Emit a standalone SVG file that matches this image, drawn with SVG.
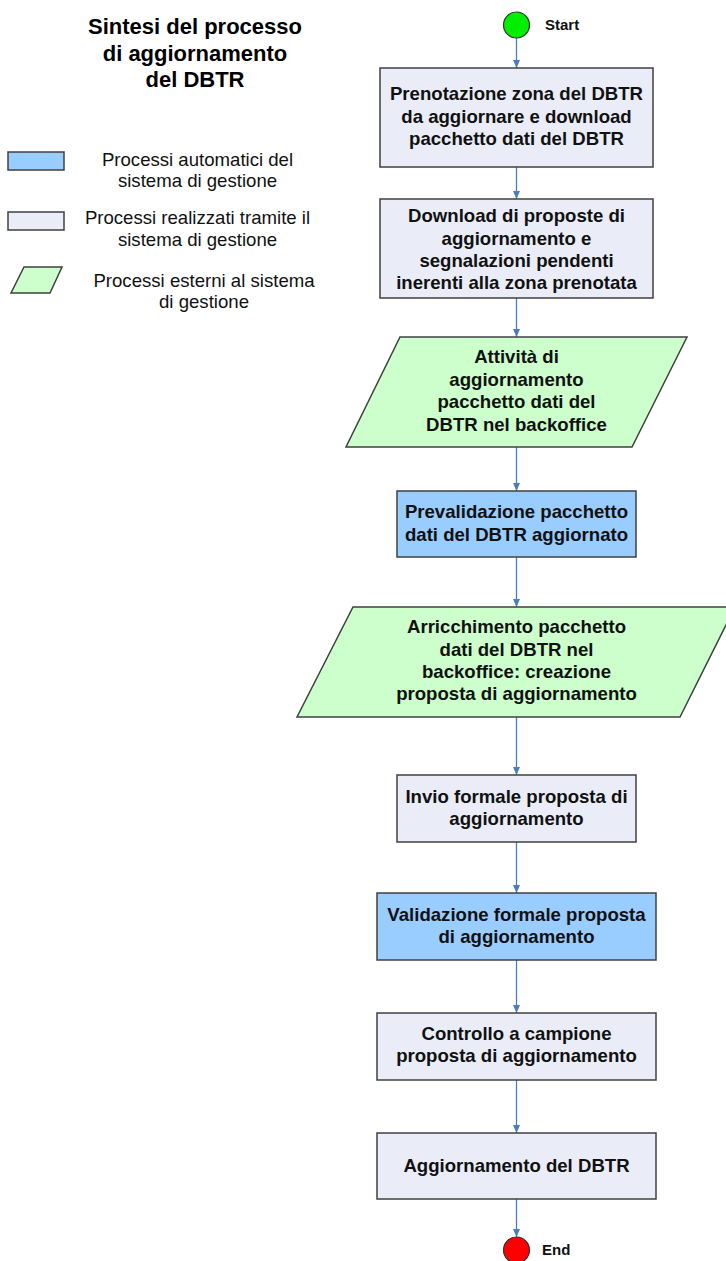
<svg xmlns="http://www.w3.org/2000/svg" width="726" height="1261" viewBox="0 0 726 1261">
<style>
text{font-family:"Liberation Sans",Arial,sans-serif;fill:#000}
.t{font-size:22px;font-weight:bold;text-anchor:middle}
.lg{font-size:18.6px;text-anchor:middle;fill:#111}
.b{font-size:18.6px;font-weight:bold;text-anchor:middle;fill:#111}
.s{font-size:15px;font-weight:bold;fill:#111}
.man{fill:#eaedf7;stroke:#404040;stroke-width:1.5}
.auto{fill:#99ccff;stroke:#404040;stroke-width:1.5}
.ext{fill:#ccffcc;stroke:#404040;stroke-width:1.5}
.con line{stroke:#4a7ebb;stroke-width:1.3;marker-end:url(#ah)}
</style>
<defs>
<marker id="ah" viewBox="0 0 8 7" refX="8" refY="3.5" markerWidth="8" markerHeight="7" markerUnits="userSpaceOnUse" orient="auto">
<path d="M0,0 L8,3.5 L0,7 z" fill="#4a7ebb"/>
</marker>
</defs>
<rect width="726" height="1261" fill="#fff"/>
<g id="title">
<text class="t" x="195" y="34">Sintesi del processo</text>
<text class="t" x="195" y="61">di aggiornamento</text>
<text class="t" x="195" y="87">del DBTR</text>
</g>
<g id="legend">
<rect class="auto" x="8" y="152" width="56" height="18"/>
<text class="lg" x="197.5" y="166">Processi automatici del</text>
<text class="lg" x="197.5" y="187">sistema di gestione</text>
<rect class="man" x="8" y="212" width="56" height="18"/>
<text class="lg" x="197.5" y="224">Processi realizzati tramite il</text>
<text class="lg" x="197.5" y="246">sistema di gestione</text>
<polygon class="ext" points="24,267 62,267 50,293 11,293"/>
<text class="lg" x="204" y="287">Processi esterni al sistema</text>
<text class="lg" x="204" y="308">di gestione</text>
</g>
<g class="con" id="connectors">
<line x1="516.5" y1="38" x2="516.5" y2="68"/>
<line x1="516.5" y1="167" x2="516.5" y2="199"/>
<line x1="516.5" y1="298" x2="516.5" y2="337"/>
<line x1="516.5" y1="447" x2="516.5" y2="491"/>
<line x1="516.5" y1="557" x2="516.5" y2="607"/>
<line x1="516.5" y1="717" x2="516.5" y2="775"/>
<line x1="516.5" y1="842" x2="516.5" y2="893"/>
<line x1="516.5" y1="960" x2="516.5" y2="1013"/>
<line x1="516.5" y1="1080" x2="516.5" y2="1133"/>
<line x1="516.5" y1="1199" x2="516.5" y2="1237"/>
</g>
<g id="start">
<circle cx="516.5" cy="25" r="13" fill="#00ee00" stroke="#333" stroke-width="1.2"/>
<text class="s" x="545" y="30">Start</text>
</g>
<g id="n1">
<rect class="man" x="380" y="68" width="273" height="99"/>
<text class="b" x="516.5" y="100">Prenotazione zona del DBTR</text>
<text class="b" x="516.5" y="122.5">da aggiornare e download</text>
<text class="b" x="516.5" y="145">pacchetto dati del DBTR</text>
</g>
<g id="n2">
<rect class="man" x="380" y="199" width="273" height="99"/>
<text class="b" x="516.5" y="222">Download di proposte di</text>
<text class="b" x="516.5" y="244.5">aggiornamento e</text>
<text class="b" x="516.5" y="267">segnalazioni pendenti</text>
<text class="b" x="516.5" y="289">inerenti alla zona prenotata</text>
</g>
<g id="n3">
<polygon class="ext" points="400,337 687,337 632,447 346,447"/>
<text class="b" x="516.5" y="363">Attività di</text>
<text class="b" x="516.5" y="386">aggiornamento</text>
<text class="b" x="516.5" y="408">pacchetto dati del</text>
<text class="b" x="516.5" y="431">DBTR nel backoffice</text>
</g>
<g id="n4">
<rect class="auto" x="397" y="491" width="239" height="66"/>
<text class="b" x="516.5" y="518">Prevalidazione pacchetto</text>
<text class="b" x="516.5" y="541">dati del DBTR aggiornato</text>
</g>
<g id="n5">
<polygon class="ext" points="353,607 735,607 680,717 297,717"/>
<text class="b" x="516.5" y="633">Arricchimento pacchetto</text>
<text class="b" x="516.5" y="655.5">dati del DBTR nel</text>
<text class="b" x="516.5" y="678">backoffice: creazione</text>
<text class="b" x="516.5" y="700">proposta di aggiornamento</text>
</g>
<g id="n6">
<rect class="man" x="397" y="775" width="239" height="67"/>
<text class="b" x="516.5" y="803">Invio formale proposta di</text>
<text class="b" x="516.5" y="825">aggiornamento</text>
</g>
<g id="n7">
<rect class="auto" x="377" y="893" width="279" height="67"/>
<text class="b" x="516.5" y="921">Validazione formale proposta</text>
<text class="b" x="516.5" y="943">di aggiornamento</text>
</g>
<g id="n8">
<rect class="man" x="377" y="1013" width="279" height="67"/>
<text class="b" x="516.5" y="1040">Controllo a campione</text>
<text class="b" x="516.5" y="1062">proposta di aggiornamento</text>
</g>
<g id="n9">
<rect class="man" x="377" y="1133" width="279" height="66"/>
<text class="b" x="516.5" y="1172">Aggiornamento del DBTR</text>
</g>
<g id="end">
<circle cx="516.5" cy="1250" r="13" fill="#ff0000" stroke="#333" stroke-width="1.2"/>
<text class="s" x="542" y="1255">End</text>
</g>
</svg>
